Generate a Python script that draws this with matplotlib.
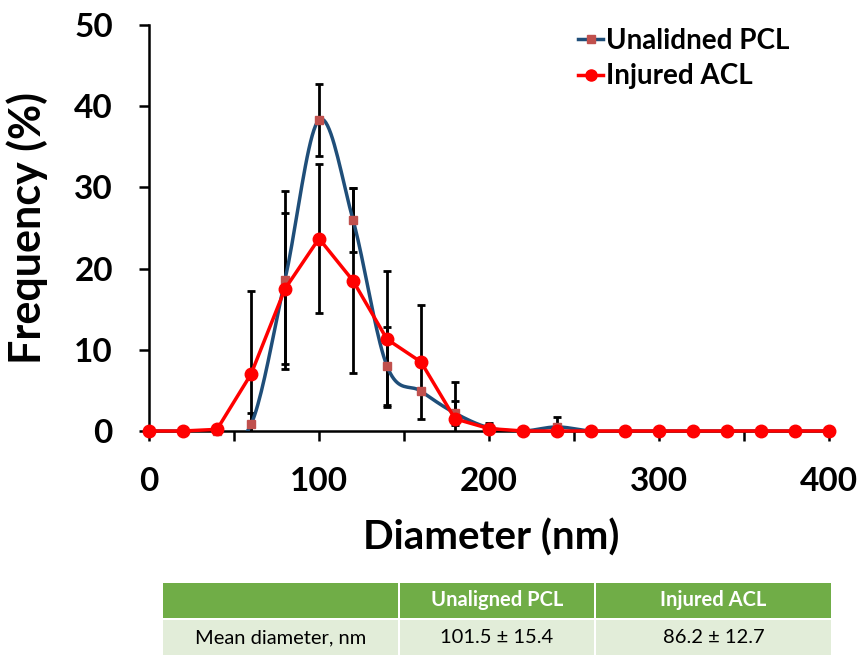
import numpy as np
from matplotlib import pyplot as plt
from matplotlib.patches import Rectangle

plt.rcParams['font.family'] = ['Lato', 'DejaVu Sans']

# Diameter bins (nm)
diameter = [0, 20, 40, 60, 80, 100, 120, 140, 160, 180, 200, 220, 240,
            260, 280, 300, 320, 340, 360, 380, 400]

# Unaligned PCL frequency (%) and error
pcl = [0, 0, 0, 0.8, 18.6, 38.3, 26.0, 8.0, 4.9, 2.2, 0.4, 0, 0.5,
       0, 0, 0, 0, 0, 0, 0, 0]
pcl_err = [0, 0, 0, 1.4, 11.0, 4.4, 3.9, 4.8, 0, 1.5, 0.6, 0, 1.2,
           0, 0, 0, 0, 0, 0, 0, 0]

# Injured ACL frequency (%) and error
acl = [0, 0, 0.2, 7.0, 17.5, 23.7, 18.5, 11.3, 8.5, 1.5, 0.3, 0, 0,
       0, 0, 0, 0, 0, 0, 0, 0]
acl_err = [0, 0, 0, 10.2, 9.3, 9.2, 11.4, 8.4, 7.0, 4.5, 0, 0, 0,
           0, 0, 0, 0, 0, 0, 0, 0]

# Table contents
table_head = ["", "Unaligned PCL", "Injured ACL"]
table_row = ["Mean diameter, nm", "101.5 \u00b1 15.4", "86.2 \u00b1 12.7"]


def smooth(x, y, n=20):
    # Catmull-Rom style smoothing, like a spreadsheet "smoothed line"
    x = np.asarray(x, float)
    y = np.asarray(y, float)
    px = np.concatenate([[x[0]], x, [x[-1]]])
    py = np.concatenate([[y[0]], y, [y[-1]]])
    xs, ys = [], []
    for i in range(1, len(px) - 2):
        t = np.linspace(0, 1, n, endpoint=False)
        for p, out in ((px, xs), (py, ys)):
            p0, p1, p2, p3 = p[i - 1], p[i], p[i + 1], p[i + 2]
            c1 = p1 + (p2 - p0) / 6
            c2 = p2 - (p3 - p1) / 6
            out.extend((1 - t) ** 3 * p1 + 3 * (1 - t) ** 2 * t * c1
                       + 3 * (1 - t) * t ** 2 * c2 + t ** 3 * p2)
    xs.append(x[-1])
    ys.append(y[-1])
    return np.array(xs), np.array(ys)


fig = plt.figure(figsize=(8.64, 6.56), dpi=100)
ax = fig.add_axes([0.1725, 0.343, 0.7928, 0.619])

blue = "#1F4E79"
mark = "#C0504D"
red = "#FF0000"

sx, sy = smooth(diameter, pcl)
ax.plot(sx, sy, color=blue, lw=2.5, zorder=3)
ax.errorbar(diameter, pcl, yerr=pcl_err, fmt="none", ecolor="black",
            elinewidth=2, capsize=3, capthick=2, zorder=2)
ax.plot(diameter, pcl, ls="none", marker="s", ms=6, color=mark, zorder=4,
        clip_on=False)

ax.errorbar(diameter, acl, yerr=acl_err, fmt="none", ecolor="black",
            elinewidth=2, capsize=3, capthick=2, zorder=2)
ax.plot(diameter, acl, color=red, lw=2.5, marker="o", ms=9, zorder=5,
        clip_on=False)

# legend handles
h1, = ax.plot([], [], color=blue, lw=2.5, marker="s", ms=6, mfc=mark, mec=mark)
h2, = ax.plot([], [], color=red, lw=2.5, marker="o", ms=8)
leg = ax.legend([h1, h2], ["Unalidned PCL", "Injured ACL"], loc="upper left",
                bbox_to_anchor=(0.59, 1.055), frameon=False, handlelength=0.9,
                handletextpad=0.1, labelspacing=0.35,
                prop={"weight": "bold", "size": 20})

ax.set_xlim(0, 403)
ax.set_ylim(0, 50)
ax.set_xticks([0, 100, 200, 300, 400])
ax.set_xticks(range(0, 401, 50), minor=True)
ax.set_yticks([0, 10, 20, 30, 40, 50])
ax.tick_params(axis="x", which="minor", length=7, width=1.8, direction="out")
ax.tick_params(axis="both", which="major", length=7, width=1.8,
               direction="out", labelsize=24, pad=19)
for lab in ax.get_xticklabels() + ax.get_yticklabels():
    lab.set_fontweight("bold")
ax.spines["top"].set_visible(False)
ax.spines["right"].set_visible(False)
ax.spines["left"].set_linewidth(1.8)
ax.spines["bottom"].set_linewidth(1.8)
ax.set_xlabel("Diameter (nm)", fontsize=29, fontweight="bold", labelpad=16)
ax.set_ylabel("Frequency (%)", fontsize=31, fontweight="bold", labelpad=19)

# table below the chart (pixel coordinates from top-left)
W, H = 864.0, 656.0
cols = [(163, 398), (400, 594), (596, 831)]
rows = [(583, 618, "#70AD47", "white", "bold", table_head),
        (620, 655, "#E2EDD9", "black", "normal", table_row)]
for top, bot, fc, tc, fw, texts in rows:
    for (l, r), txt in zip(cols, texts):
        fig.patches.append(Rectangle((l / W, 1 - bot / H), (r - l) / W,
                                     (bot - top) / H, facecolor=fc,
                                     edgecolor="none",
                                     transform=fig.transFigure))
        fig.text((l + r) / 2 / W, 1 - (top + bot) / 2 / H, txt, color=tc,
                 fontweight=fw, fontsize=14.5, ha="center", va="center")

fig.savefig("out.png", dpi=100)
